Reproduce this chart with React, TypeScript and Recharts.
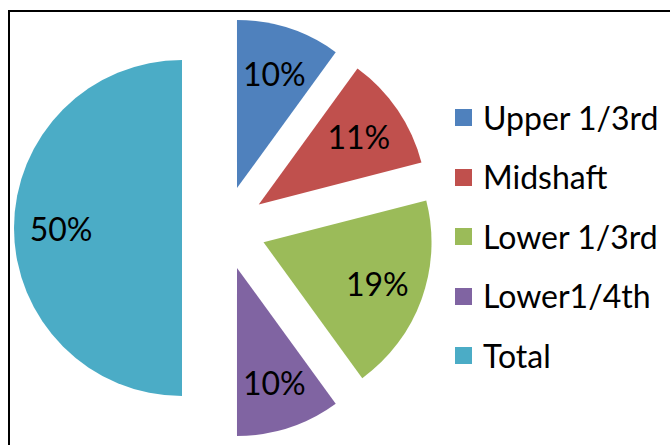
import React from 'react';
import { PieChart, Pie, Sector, Legend } from 'recharts';

const categories = ['Upper 1/3rd', 'Midshaft', 'Lower 1/3rd', 'Lower1/4th', 'Total'];
const values = [10, 11, 19, 10, 50];
const colors = ['#4F81BD', '#C0504D', '#9BBB59', '#8064A2', '#4BACC6'];

const data = categories.map((name, i) => ({ name, value: values[i] }));

const RAD = Math.PI / 180;
const EXPLODE = 42;
const FONT = 'Lato, "Open Sans", sans-serif';

// each slice is drawn here, pushed out along its mid angle (exploded pie)
const renderSlice = (props: any) => {
    const { cx, cy, midAngle, innerRadius, outerRadius, startAngle, endAngle, percent, index } = props;
    const ox = Math.cos(-midAngle * RAD) * EXPLODE;
    const oy = Math.sin(-midAngle * RAD) * EXPLODE;
    const lr = outerRadius * 0.72;
    const tx = cx + ox + Math.cos(-midAngle * RAD) * lr;
    const ty = cy + oy + Math.sin(-midAngle * RAD) * lr;
    return (
        <g key={'slice-' + index}>
            <Sector
                cx={cx + ox}
                cy={cy + oy}
                innerRadius={innerRadius}
                outerRadius={outerRadius}
                startAngle={startAngle}
                endAngle={endAngle}
                fill={colors[index]}
                stroke="none"
            />
            <text
                x={tx}
                y={ty}
                textAnchor="middle"
                dominantBaseline="central"
                fill="#000"
                style={{ fontFamily: FONT, fontSize: 32 }}
            >
                {Math.round(percent * 100) + '%'}
            </text>
        </g>
    );
};

const renderLegend = () => (
    <div style={{ fontFamily: FONT, fontSize: 32, color: '#000' }}>
        {categories.map((name, i) => (
            <div key={name} style={{ display: 'flex', alignItems: 'center', height: '59.5px' }}>
                <span style={{ width: 17, height: 17, background: colors[i], marginRight: 11, display: 'inline-block' }} />
                <span style={{ lineHeight: 1 }}>{name}</span>
            </div>
        ))}
    </div>
);

const App: React.FC = () => {
    return (
        <div style={{ position: 'absolute', left: 0, top: 0, width: 670, height: 445, background: '#fff', overflow: 'hidden' }}>
            <div style={{
                position: 'absolute',
                left: 8,
                top: 10,
                width: 662,
                height: 435,
                borderTop: '2px solid #000',
                borderLeft: '2px solid #000',
                boxSizing: 'border-box'
            }} />
            <div style={{ position: 'absolute', left: 0, top: 0 }}>
                <PieChart width={670} height={445} margin={{ top: 0, right: 0, bottom: 0, left: 0 }}>
                    <Pie
                        data={data}
                        dataKey="value"
                        nameKey="name"
                        cx={224}
                        cy={228}
                        outerRadius={168}
                        startAngle={90}
                        endAngle={-270}
                        fill="transparent"
                        stroke="none"
                        label={renderSlice}
                        labelLine={false}
                        isAnimationActive={false}
                    />
                    <Legend
                        content={renderLegend}
                        wrapperStyle={{ position: 'absolute', left: 455, top: 88, width: 215, bottom: 'auto', right: 'auto' }}
                    />
                </PieChart>
            </div>
        </div>
    );
};

export default App;
